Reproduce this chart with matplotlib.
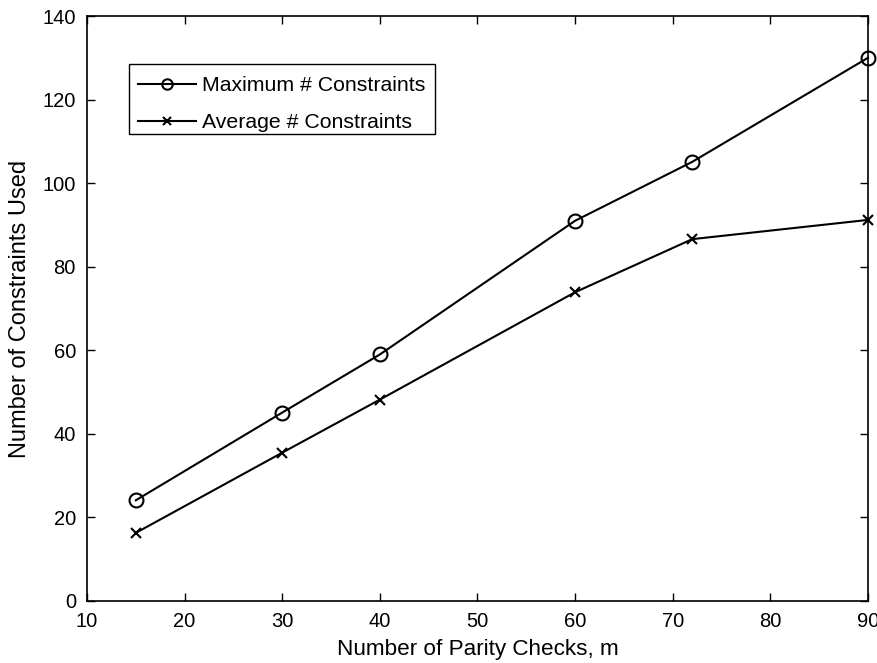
import matplotlib
matplotlib.use("Agg")
import matplotlib.pyplot as plt
from matplotlib.patches import Rectangle

plt.rcParams['font.family'] = ['Liberation Sans', 'DejaVu Sans']

parity_checks = [15, 30, 40, 60, 72, 90]
max_constraints = [24.1, 45.1, 59.0, 91.0, 105.1, 130.0]
avg_constraints = [16.3, 35.5, 48.2, 73.9, 86.6, 91.2]

fig = plt.figure(figsize=(8.78, 6.63), dpi=100)
ax = fig.add_axes([87 / 878, 1 - 601 / 663, (868 - 87) / 878, (601 - 16) / 663])

ax.plot(parity_checks, max_constraints, color='black', lw=1.5, marker='o',
        markersize=10, markerfacecolor='none', markeredgewidth=1.5,
        label='Maximum # Constraints', clip_on=False, zorder=3)
ax.plot(parity_checks, avg_constraints, color='black', lw=1.5, marker='x',
        markersize=7.5, markeredgewidth=1.5,
        label='Average # Constraints', clip_on=False, zorder=3)

ax.set_xlim(10, 90)
ax.set_ylim(0, 140)
ax.set_xticks(range(10, 91, 10))
ax.set_yticks(range(0, 141, 20))
ax.tick_params(direction='in', top=True, right=True, length=6, width=1,
               labelsize=14.5)
ax.tick_params(axis='x', pad=8)
ax.tick_params(axis='y', pad=8)
for s in ax.spines.values():
    s.set_linewidth(1.2)

ax.set_xlabel('Number of Parity Checks, m', fontsize=16.2, labelpad=6)
ax.set_ylabel('Number of Constraints Used', fontsize=17, labelpad=8)

# legend entries without their own frame; the box is drawn separately
leg = ax.legend(loc='upper left', bbox_to_anchor=(0.056, 0.9095), fontsize=15.3,
                frameon=False, handlelength=2.7, borderpad=0.35,
                labelspacing=0.84, handletextpad=0.3, borderaxespad=0)
for h in leg.legend_handles:
    h.set_markersize(h.get_markersize() * 0.75)
ax.add_patch(Rectangle((0.0538, 0.798), 0.3918, 0.1195, transform=ax.transAxes,
                       facecolor='white', edgecolor='black', lw=1.0, zorder=4))
leg.set_zorder(5)

fig.savefig('out.png', dpi=100)
